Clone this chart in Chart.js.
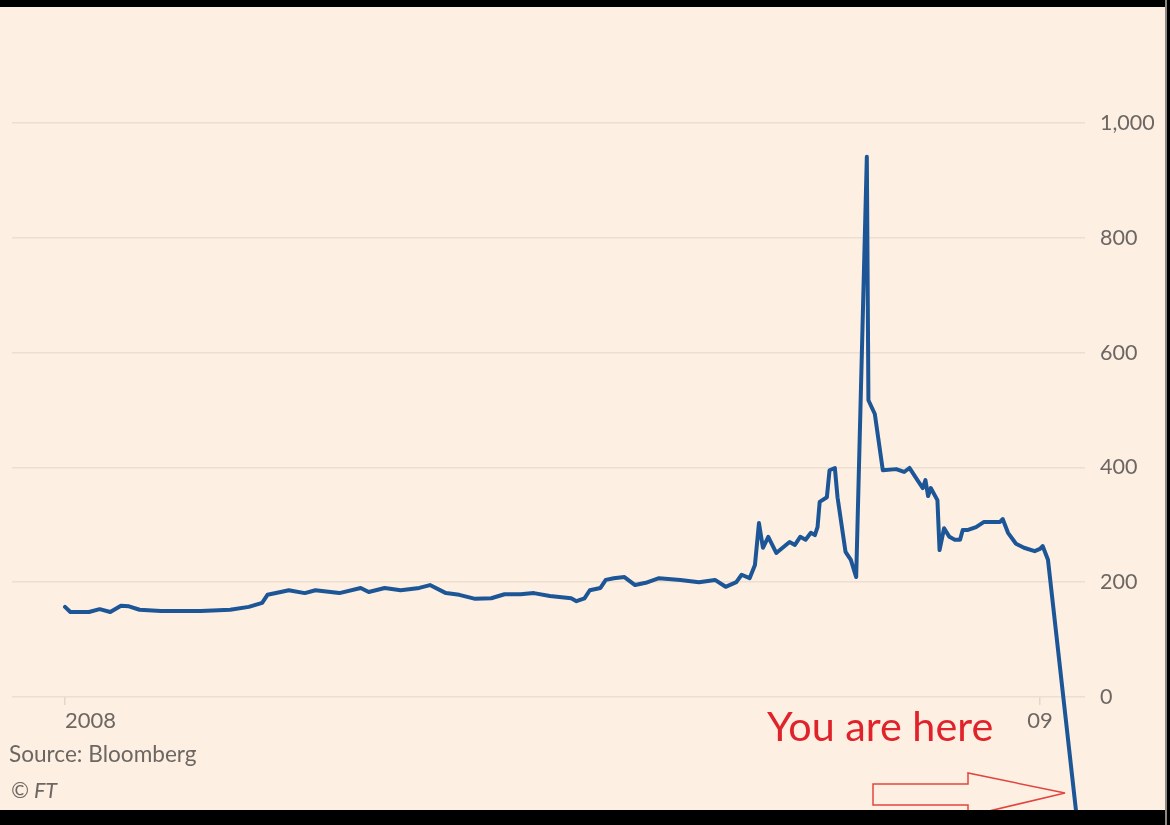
<!DOCTYPE html>
<html>
<head>
<meta charset="utf-8">
<script src="https://cdn.jsdelivr.net/npm/chart.js@4.4.1/dist/chart.umd.min.js"></script>
<style>
  html, body { margin: 0; padding: 0; background: #fdefe2; }
  #wrap { position: relative; width: 1170px; height: 825px; overflow: hidden; background: #fdefe2; }
  #chartBox { position: absolute; left: 0; top: 0; width: 1170px; height: 825px; }
  .txt { position: absolute; font-family: Lato, "Open Sans", sans-serif; color: #6d6763; white-space: nowrap; }
  #source { left: 9px; top: 740px; font-size: 22.6px; }
  #copy { left: 11px; top: 777px; font-size: 21.5px; font-style: italic; }
  #here { left: 767px; top: 700px; font-size: 41.3px; color: #e0232b; }
  .bar { position: absolute; background: #000; }
</style>
</head>
<body>
<div id="wrap">
  <div id="chartBox"><canvas id="c"></canvas></div>
  <div class="txt" id="source">Source: Bloomberg</div>
  <div class="txt" id="copy">© FT</div>
  <div class="txt" id="here">You are here</div>
  <svg id="arrow" width="1170" height="825" style="position:absolute;left:0;top:0;pointer-events:none">
    <polygon points="873,784 968,784 968,773 1065,793 968,816 968,805 873,805" fill="none" stroke="#e2453f" stroke-width="1.5"/>
  </svg>
  <div class="bar" style="left:0;top:0;width:1170px;height:7px"></div>
  <div class="bar" style="left:0;top:810px;width:1170px;height:15px"></div>
  <div style="position:absolute;left:1165px;top:0;width:2px;height:825px;background:#8e8883"></div>
  <div class="bar" style="left:1167px;top:0;width:3px;height:825px"></div>
</div>
<script>
// Days since 1 Jan 2008
const days = [0, 2, 9, 13, 17, 21, 24, 28, 36, 51, 62, 69, 74, 76, 81, 84, 90, 94, 103, 111,
  114, 120, 126, 133, 137, 143, 148, 154, 160, 165, 171, 176, 182, 190, 192, 195, 197, 201, 203, 206,
  210, 214, 218, 223, 231, 238, 244, 248, 252, 254, 257, 259, 260.5, 262, 264, 267, 272, 274, 276, 278,
  280, 281.5, 282.5, 283.3, 286, 287, 289, 290, 293, 295, 297, 301, 301.6, 303, 304, 307, 312, 315, 317, 320,
  322, 323, 324, 325, 327.5, 328.3, 330, 332, 334, 336, 337, 339, 342, 345, 351, 352, 354, 357, 360, 364,
  366, 367, 369, 380];
// Spread values (bp)
const spread = [157, 148, 148, 153, 148, 159, 158, 152, 150, 150, 152, 157, 164, 178, 183, 186, 181, 186, 181, 190,
  183, 190, 186, 190, 195, 181, 178, 171, 172, 179, 179, 181, 176, 172, 167, 172, 186, 190, 204, 207,
  209, 195, 199, 207, 204, 200, 204, 192, 200, 213, 207, 230, 303, 260, 279, 251, 270, 265, 279, 274,
  286, 282, 296, 340, 348, 395, 399, 348, 253, 239, 209, 941, 517, 503, 493, 395, 397, 392, 399, 378,
  364, 378, 350, 364, 343, 256, 294, 279, 274, 274, 291, 291, 296, 305, 305, 310, 286, 267, 260, 254,
  258, 263, 239, -218];
const yTicks = [0, 200, 400, 600, 800, 1000];
const xTickValues = [0, 366];
const xTickLabels = ['2008', '09'];

const X_MIN = -19.9, X_MAX = 382.9;
const points = days.map((d, i) => ({ x: d, y: spread[i] }));

new Chart(document.getElementById('c'), {
  type: 'line',
  data: {
    datasets: [{
      data: points,
      borderColor: '#1c5697',
      borderWidth: 4,
      pointRadius: 0,
      tension: 0,
      borderJoinStyle: 'round',
      borderCapStyle: 'round'
    }]
  },
  options: {
    responsive: true,
    maintainAspectRatio: false,
    animation: false,
    events: [],
    layout: { padding: { left: 12, right: 0, top: 65.6, bottom: 13.2 } },
    plugins: { legend: { display: false }, tooltip: { enabled: false } },
    scales: {
      x: {
        type: 'linear',
        position: { y: 0 },
        min: X_MIN,
        max: X_MAX,
        afterBuildTicks: (s) => {
          s.ticks = xTickValues.map(v => ({ value: v })).concat([{ value: X_MAX }]);
        },
        ticks: {
          align: 'inner',
          autoSkip: false,
          maxRotation: 0,
          padding: 3,
          color: '#6d6763',
          font: { family: 'Lato, "Open Sans", sans-serif', size: 22 },
          callback: (v) => {
            const i = xTickValues.indexOf(v);
            return i >= 0 ? xTickLabels[i] : '';
          }
        },
        grid: {
          drawOnChartArea: false,
          drawTicks: true,
          tickLength: 8,
          color: (ctx) => (ctx.tick && ctx.tick.value === X_MAX) ? 'rgba(0,0,0,0)' : '#e3d7cb',
          lineWidth: 1.5
        },
        border: { display: false }
      },
      y: {
        type: 'linear',
        position: 'right',
        min: -200,
        max: 1100,
        afterBuildTicks: (s) => { s.ticks = yTicks.map(v => ({ value: v })); },
        afterFit: (s) => { s.width = 85; },
        ticks: {
          padding: 2,
          color: '#6d6763',
          font: { family: 'Lato, "Open Sans", sans-serif', size: 21.5, lineHeight: 1 },
          callback: (v) => v.toLocaleString('en-US')
        },
        grid: { color: '#ecdfd2', lineWidth: 1.5, drawTicks: true, tickLength: 13, tickColor: 'rgba(0,0,0,0)' },
        border: { display: false }
      }
    }
  }
});
</script>
</body>
</html>
